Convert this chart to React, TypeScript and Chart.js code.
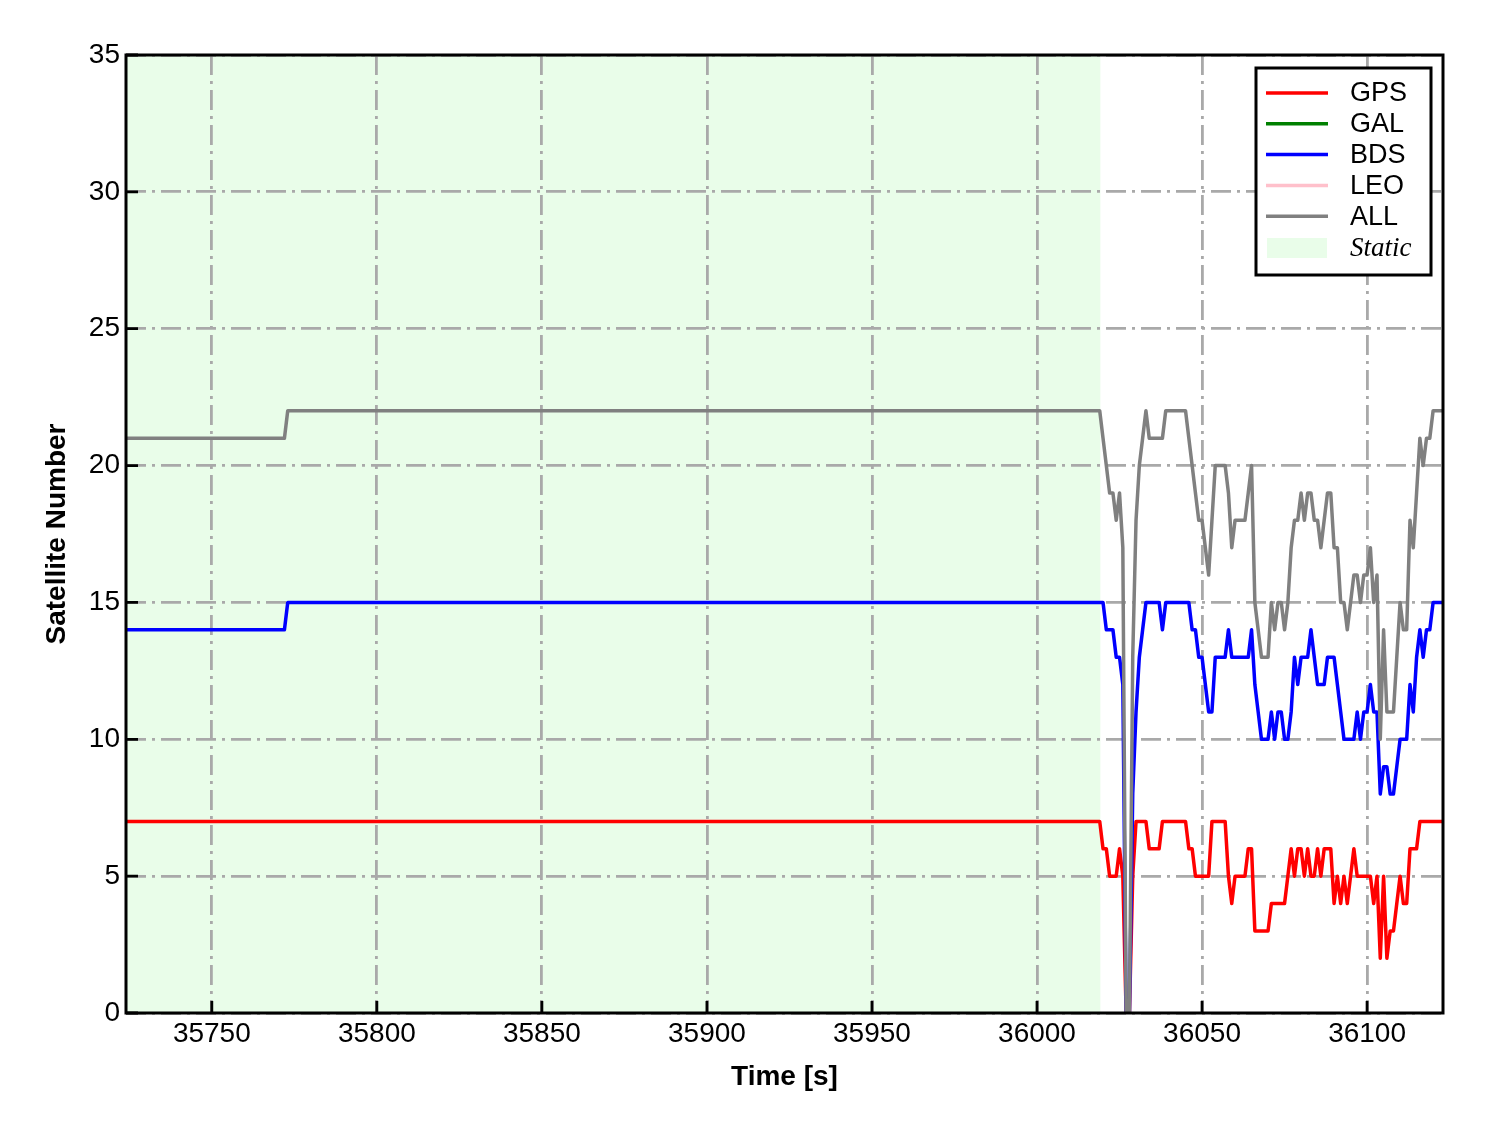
import React, { useEffect, useRef } from "react";
import { Chart, registerables } from "chart.js";

Chart.register(...registerables);

// ---------- data ----------
const staticTimes = [35724, 35772, 35773];
const staticGps = [7, 7, 7];
const staticBds = [14, 14, 15];
const staticAll = [21, 21, 22];

const dynTimes = [
  36019, 36020, 36021, 36022, 36023, 36024, 36025, 36026, 36027, 36028,
  36029, 36030, 36031, 36032, 36033, 36034, 36035, 36036, 36037, 36038,
  36039, 36040, 36041, 36042, 36043, 36044, 36045, 36046, 36047, 36048,
  36049, 36050, 36051, 36052, 36053, 36054, 36055, 36056, 36057, 36058,
  36059, 36060, 36061, 36062, 36063, 36064, 36065, 36066, 36067, 36068,
  36069, 36070, 36071, 36072, 36073, 36074, 36075, 36076, 36077, 36078,
  36079, 36080, 36081, 36082, 36083, 36084, 36085, 36086, 36087, 36088,
  36089, 36090, 36091, 36092, 36093, 36094, 36095, 36096, 36097, 36098,
  36099, 36100, 36101, 36102, 36103, 36104, 36105, 36106, 36107, 36108,
  36109, 36110, 36111, 36112, 36113, 36114, 36115, 36116, 36117, 36118,
  36119, 36120, 36121, 36122, 36123,
];
const dynGps = [
  7, 6, 6, 5, 5, 5, 6, 5, 0, 0,
  5, 7, 7, 7, 7, 6, 6, 6, 6, 7,
  7, 7, 7, 7, 7, 7, 7, 6, 6, 5,
  5, 5, 5, 5, 7, 7, 7, 7, 7, 5,
  4, 5, 5, 5, 5, 6, 6, 3, 3, 3,
  3, 3, 4, 4, 4, 4, 4, 5, 6, 5,
  6, 6, 5, 6, 5, 5, 6, 5, 6, 6,
  6, 4, 5, 4, 5, 4, 5, 6, 5, 5,
  5, 5, 5, 4, 5, 2, 5, 2, 3, 3,
  4, 5, 4, 4, 6, 6, 6, 7, 7, 7,
  7, 7, 7, 7, 7,
];
const dynBds = [
  15, 15, 14, 14, 14, 13, 13, 12, 0, 0,
  8, 11, 13, 14, 15, 15, 15, 15, 15, 14,
  15, 15, 15, 15, 15, 15, 15, 15, 14, 14,
  13, 13, 12, 11, 11, 13, 13, 13, 13, 14,
  13, 13, 13, 13, 13, 13, 14, 12, 11, 10,
  10, 10, 11, 10, 11, 11, 10, 10, 11, 13,
  12, 13, 13, 13, 14, 13, 12, 12, 12, 13,
  13, 13, 12, 11, 10, 10, 10, 10, 11, 10,
  11, 11, 12, 11, 11, 8, 9, 9, 8, 8,
  9, 10, 10, 10, 12, 11, 13, 14, 13, 14,
  14, 15, 15, 15, 15,
];
const dynAll = [
  22, 21, 20, 19, 19, 18, 19, 17, 0, 0,
  13, 18, 20, 21, 22, 21, 21, 21, 21, 21,
  22, 22, 22, 22, 22, 22, 22, 21, 20, 19,
  18, 18, 17, 16, 18, 20, 20, 20, 20, 19,
  17, 18, 18, 18, 18, 19, 20, 15, 14, 13,
  13, 13, 15, 14, 15, 15, 14, 15, 17, 18,
  18, 19, 18, 19, 19, 18, 18, 17, 18, 19,
  19, 17, 17, 15, 15, 14, 15, 16, 16, 15,
  16, 16, 17, 15, 16, 10, 14, 11, 11, 11,
  13, 15, 14, 14, 18, 17, 19, 21, 20, 21,
  21, 22, 22, 22, 22,
];
const galValues: number[] = [];
const leoValues: number[] = [];

const seriesNames = ["GPS", "GAL", "BDS", "LEO", "ALL"];
const seriesColors = ["#ff0000", "#008000", "#0000ff", "#ffc0cb", "#808080"];
const staticLabel = "Static";
const staticStart = 35724;
const staticEnd = 36019.2;
const xMin = 35724;
const xMax = 36123;
const yMin = 0;
const yMax = 35;
const xTickValues = [35750, 35800, 35850, 35900, 35950, 36000, 36050, 36100];
const yTickValues = [0, 5, 10, 15, 20, 25, 30, 35];
const xTitle = "Time [s]";
const yTitle = "Satellite Number";

// ---------- styles ----------
const STATIC_FILL = "rgb(233, 253, 233)";
const GRID_COLOR = "#a9a9a9";
const LINE_W = 3.5;
const FONT_SANS = '"Liberation Sans", Arial, Helvetica, sans-serif';
const FONT_SERIF = '"Liberation Serif", "Times New Roman", serif';

function toPoints(times: number[], vals: number[]) {
  return times.map((t, i) => ({ x: t, y: vals[i] }));
}

const shadePlugin = {
  id: "staticShade",
  beforeDraw(chart: any) {
    const { ctx, chartArea, scales } = chart;
    const x0 = scales.x.getPixelForValue(staticStart);
    const x1 = scales.x.getPixelForValue(staticEnd);
    ctx.save();
    ctx.fillStyle = STATIC_FILL;
    ctx.fillRect(x0, chartArea.top, x1 - x0, chartArea.bottom - chartArea.top);
    ctx.restore();
  },
};

const framePlugin = {
  id: "frameTicks",
  afterDatasetsDraw(chart: any) {
    const { ctx, chartArea, scales } = chart;
    const { left, right, top, bottom } = chartArea;
    ctx.save();
    ctx.strokeStyle = "#000";
    ctx.lineWidth = 2.8;
    ctx.lineCap = "butt";
    ctx.beginPath();
    xTickValues.forEach((v) => {
      const px = scales.x.getPixelForValue(v);
      ctx.moveTo(px, bottom);
      ctx.lineTo(px, bottom - 12);
    });
    yTickValues.forEach((v) => {
      const py = scales.y.getPixelForValue(v);
      ctx.moveTo(left, py);
      ctx.lineTo(left + 12, py);
    });
    ctx.stroke();
    ctx.lineWidth = 3;
    ctx.strokeRect(left, top, right - left, bottom - top);
    ctx.restore();
  },
};

const legendPlugin = {
  id: "boxLegend",
  afterDraw(chart: any) {
    const { ctx } = chart;
    const bx = 1256;
    const by = 68;
    const bw = 175;
    const bh = 207;
    ctx.save();
    ctx.fillStyle = "#ffffff";
    ctx.fillRect(bx, by, bw, bh);
    ctx.lineWidth = 3;
    ctx.strokeStyle = "#000";
    ctx.strokeRect(bx, by, bw, bh);
    const rowH = 30.8;
    const y0 = 93;
    chart.data.datasets.forEach((ds: any, i: number) => {
      const y = y0 + i * rowH;
      ctx.strokeStyle = ds.borderColor;
      ctx.lineWidth = LINE_W;
      ctx.beginPath();
      ctx.moveTo(1266, y);
      ctx.lineTo(1328, y);
      ctx.stroke();
      ctx.fillStyle = "#000";
      ctx.font = `27px ${FONT_SANS}`;
      ctx.textBaseline = "middle";
      ctx.textAlign = "left";
      ctx.fillText(ds.label, 1350, y + 1);
    });
    const ys = y0 + 5 * rowH + 1;
    ctx.fillStyle = STATIC_FILL;
    ctx.fillRect(1267, ys - 10, 60, 20);
    ctx.fillStyle = "#000";
    ctx.font = `italic 27px ${FONT_SERIF}`;
    ctx.textBaseline = "middle";
    ctx.fillText(staticLabel, 1350, ys + 1);
    ctx.restore();
  },
};

export default function App() {
  const ref = useRef<HTMLCanvasElement | null>(null);

  useEffect(() => {
    document.body.style.margin = "0";
    const canvas = ref.current;
    if (!canvas) return;
    const allTimes = [...staticTimes, ...dynTimes];
    const gps = [...staticGps, ...dynGps];
    const bds = [...staticBds, ...dynBds];
    const all = [...staticAll, ...dynAll];
    const seriesData = [
      toPoints(allTimes, gps),
      galValues.map((v, i) => ({ x: allTimes[i], y: v })),
      toPoints(allTimes, bds),
      leoValues.map((v, i) => ({ x: allTimes[i], y: v })),
      toPoints(allTimes, all),
    ];
    const datasets = seriesNames.map((name, i) => ({
      label: name,
      data: seriesData[i],
      borderColor: seriesColors[i],
      backgroundColor: seriesColors[i],
      borderWidth: LINE_W,
      pointRadius: 0,
      pointHoverRadius: 0,
      tension: 0,
      fill: false,
      borderJoinStyle: "round" as const,
      order: seriesNames.length - 1 - i,
    }));

    const chart = new Chart(canvas, {
      type: "line",
      data: { datasets },
      options: {
        animation: false,
        responsive: false,
        devicePixelRatio: 1,
        layout: { padding: { top: 55, right: 45, left: 0, bottom: 0 } },
        plugins: {
          legend: { display: false },
          tooltip: { enabled: false },
        },
        scales: {
          x: {
            type: "linear",
            min: xMin,
            max: xMax,
            afterBuildTicks: (scale: any) => {
              scale.ticks = xTickValues.map((v) => ({ value: v }));
            },
            afterFit: (scale: any) => {
              scale.height = 120;
            },
            ticks: {
              color: "#000",
              font: { family: FONT_SANS, size: 28 },
              padding: 4,
              maxRotation: 0,
              autoSkip: false,
              callback: (v: any) => String(v),
            },
            grid: {
              color: GRID_COLOR,
              lineWidth: 2.8,
              drawTicks: false,
            },
            border: { display: false, dash: [20, 6, 3, 6] },
            title: {
              display: true,
              text: xTitle,
              color: "#000",
              font: { family: FONT_SANS, size: 28, weight: "bold" },
              padding: { top: 0, bottom: 39 },
            },
          },
          y: {
            type: "linear",
            min: yMin,
            max: yMax,
            afterBuildTicks: (scale: any) => {
              scale.ticks = yTickValues.map((v) => ({ value: v }));
            },
            afterFit: (scale: any) => {
              scale.width = 126;
            },
            ticks: {
              color: "#000",
              font: { family: FONT_SANS, size: 28 },
              padding: 6,
              autoSkip: false,
            },
            grid: {
              color: GRID_COLOR,
              lineWidth: 2.8,
              drawTicks: false,
            },
            border: { display: false, dash: [20, 6, 3, 6] },
            title: {
              display: true,
              text: yTitle,
              color: "#000",
              font: { family: FONT_SANS, size: 28, weight: "bold" },
              padding: { top: 40, bottom: 0 },
            },
          },
        },
      },
      plugins: [shadePlugin, framePlugin, legendPlugin],
    });
    return () => chart.destroy();
  }, []);

  return (
    <div style={{ width: 1488, height: 1133, background: "#fff" }}>
      <canvas ref={ref} width={1488} height={1133} style={{ display: "block" }} />
    </div>
  );
}
